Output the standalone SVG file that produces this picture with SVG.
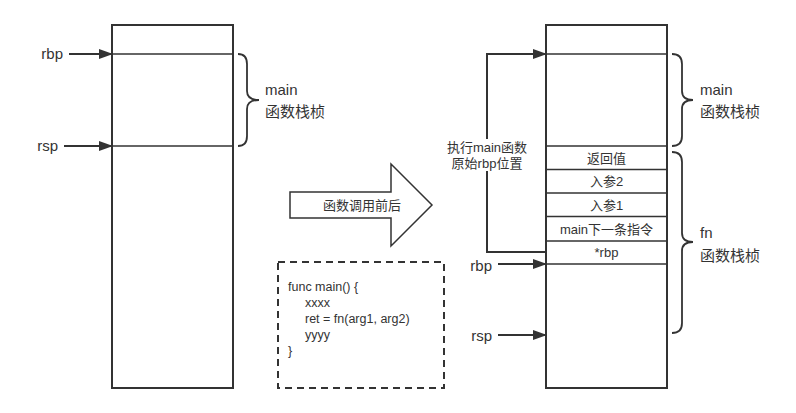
<svg xmlns="http://www.w3.org/2000/svg" width="796" height="413" viewBox="0 0 796 413">
<style>
.box{fill:#fff;stroke:#333;stroke-width:2}
.ln{stroke:#333;stroke-width:1.5;fill:none}
.cn{stroke:#333;stroke-width:2;fill:none}
.br{stroke:#333;stroke-width:1.8;fill:none}
.t{font-family:"Liberation Sans","Noto Sans CJK SC",sans-serif;fill:#333}
.lbl{font-size:15px}
.cell{font-size:13px;text-anchor:middle}
.code{font-size:12.5px}
</style>
<defs>
<marker id="ah" markerWidth="14" markerHeight="10" refX="13" refY="5" orient="auto" markerUnits="userSpaceOnUse">
<path d="M0,0 L14,5 L0,10 Z" fill="#333"/>
</marker>
</defs>
<g id="left-stack">
<rect class="box" x="112" y="25" width="121" height="363"/>
<line class="ln" x1="112" y1="54" x2="233" y2="54"/>
<line class="ln" x1="112" y1="146" x2="233" y2="146"/>
</g>
<g id="left-brace">
<path class="br" d="M238,54 Q247,54 247,64 L247,91 Q247,100 259,100 Q247,100 247,109 L247,136 Q247,146 238,146"/>
<text class="t lbl" x="265" y="95">main</text>
<text class="t lbl" x="265" y="117">函数栈桢</text>
</g>
<g id="left-labels">
<text class="t lbl" x="63" y="59" text-anchor="end">rbp</text>
<text class="t lbl" x="58" y="151" text-anchor="end">rsp</text>
</g>
<g id="big-arrow">
<path d="M290,192 L391,192 L391,164 L432,205 L391,246 L391,218 L290,218 Z" fill="#fff" stroke="#333" stroke-width="1.5"/>
<text class="t" x="362" y="210" font-size="13" text-anchor="middle">函数调用前后</text>
</g>
<g id="code">
<rect x="278" y="262" width="166" height="126" fill="#fff" stroke="#333" stroke-width="2" stroke-dasharray="7,5"/>
<text class="t code" x="288" y="291">func main() {</text>
<text class="t code" x="305" y="307">xxxx</text>
<text class="t code" x="305" y="323">ret = fn(arg1, arg2)</text>
<text class="t code" x="305" y="339">yyyy</text>
<text class="t code" x="288" y="355">}</text>
</g>
<g id="right-stack">
<rect class="box" x="546" y="25" width="121" height="363"/>
<line class="ln" x1="546" y1="54" x2="667" y2="54"/>
<line class="ln" x1="546" y1="146" x2="667" y2="146"/>
<line class="ln" x1="546" y1="169.5" x2="667" y2="169.5"/>
<line class="ln" x1="546" y1="193" x2="667" y2="193"/>
<line class="ln" x1="546" y1="216.5" x2="667" y2="216.5"/>
<line class="ln" x1="546" y1="241" x2="667" y2="241"/>
<line class="ln" x1="546" y1="264" x2="667" y2="264"/>
<text class="t cell" x="606.5" y="162.5">返回值</text>
<text class="t cell" x="606.5" y="186">入参2</text>
<text class="t cell" x="606.5" y="209.5">入参1</text>
<text class="t cell" x="606.5" y="233.5">main下一条指令</text>
<text class="t cell" x="606.5" y="257">*rbp</text>
</g>
<g id="right-brace-main">
<path class="br" d="M672,54 Q682,54 682,64 L682,91 Q682,100 693,100 Q682,100 682,109 L682,136 Q682,146 672,146"/>
<text class="t lbl" x="700" y="95">main</text>
<text class="t lbl" x="700" y="117">函数栈桢</text>
</g>
<g id="right-brace-fn">
<path class="br" d="M672,152 Q682,152 682,162 L682,233 Q682,242 693,242 Q682,242 682,251 L682,323 Q682,333 672,333"/>
<text class="t lbl" x="700" y="238">fn</text>
<text class="t lbl" x="700" y="261">函数栈桢</text>
</g>
<g id="right-labels">
<text class="t lbl" x="492" y="271" text-anchor="end">rbp</text>
<text class="t lbl" x="492" y="341" text-anchor="end">rsp</text>
</g>
<g id="connectors">
<line class="cn" x1="69" y1="54" x2="112" y2="54" marker-end="url(#ah)"/>
<line class="cn" x1="64" y1="146" x2="112" y2="146" marker-end="url(#ah)"/>
<line class="cn" x1="498" y1="264" x2="546" y2="264" marker-end="url(#ah)"/>
<line class="cn" x1="498" y1="335" x2="546" y2="335" marker-end="url(#ah)"/>
<path class="cn" d="M546,252 L487,252 L487,54 L546,54" marker-end="url(#ah)"/>
<rect x="444" y="139" width="88" height="32" fill="#fff"/>
<text class="t" x="487" y="152" font-size="13" text-anchor="middle">执行main函数</text>
<text class="t" x="487" y="168" font-size="13" text-anchor="middle">原始rbp位置</text>
</g>
</svg>
